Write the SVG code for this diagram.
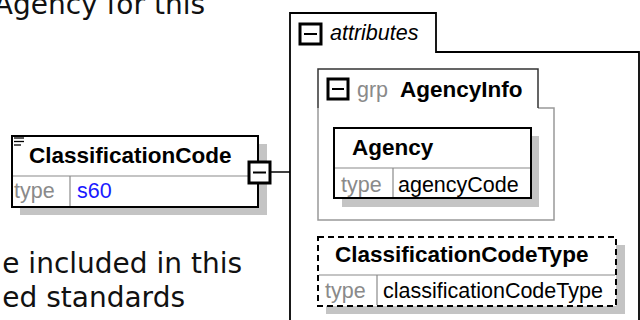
<svg xmlns="http://www.w3.org/2000/svg" width="640" height="320" viewBox="0 0 640 320">
<style>
.bg{font-family:"DejaVu Sans",Verdana,sans-serif;font-size:28px;fill:#111}
.t{font-family:"Liberation Sans",Arial,sans-serif;font-size:21.5px;fill:#000}
.b{font-family:"Liberation Sans",Arial,sans-serif;font-size:22.5px;font-weight:bold;fill:#000}
.g{fill:#8a8a8a}
.box{fill:#fff;stroke:#000;stroke-width:2}
.dash{fill:#fff;stroke:#000;stroke-width:2;stroke-dasharray:6 4}
.sh{fill:#c4c4c4}
.div{stroke:#8a8a8a;stroke-width:1.2;fill:none}
.mb{fill:#fff;stroke:#000;stroke-width:3}
.ml{stroke:#000;stroke-width:2}
</style>
<rect width="640" height="320" fill="#fff"/>
<text class="bg" x="205" y="14" text-anchor="end">Agency for this</text>
<text class="bg" x="242" y="273" text-anchor="end">e included in this</text>
<text class="bg" x="185" y="307" text-anchor="end">ed standards</text>

<g id="connectors">
<line x1="270" y1="172" x2="290" y2="172" stroke="#000" stroke-width="1.5"/>
</g>

<g id="attributes">
<path d="M290,320 V13 H436 V52 H639 V320" fill="#fff" stroke="#000" stroke-width="1.8"/>
<rect class="mb" x="300" y="24" width="21" height="20"/>
<line class="ml" x1="304" y1="34" x2="317" y2="34"/>
<text class="t" x="330" y="40" font-style="italic">attributes</text>
</g>

<g id="AgencyInfo">
<path d="M538,108 H554 V220 H318 V108" fill="#fff" stroke="#999" stroke-width="1.5"/>
<path d="M318,108 V69 H538 V108" fill="#fff" stroke="#333" stroke-width="1.5"/>
<rect x="319" y="70" width="218" height="40" fill="#fff"/>
<rect class="mb" x="328" y="79" width="20" height="20"/>
<line class="ml" x1="332" y1="89" x2="344" y2="89"/>
<text class="t g" x="357" y="97">grp</text>
<text class="b" x="400" y="97">AgencyInfo</text>
</g>

<g id="Agency">
<rect class="sh" x="342" y="136" width="197" height="71"/>
<rect class="box" x="334" y="128" width="197" height="70"/>
<line class="div" x1="335" y1="168" x2="530" y2="168"/>
<line class="div" x1="393" y1="168" x2="393" y2="197"/>
<text class="b" x="352" y="155">Agency</text>
<text class="t g" x="341" y="192">type</text>
<text class="t" x="398" y="192">agencyCode</text>
</g>

<g id="ClassificationCodeType">
<rect class="sh" x="326" y="245" width="299" height="69"/>
<rect class="dash" x="318" y="237" width="298" height="69"/>
<line class="div" x1="319" y1="275" x2="615" y2="275"/>
<line class="div" x1="377" y1="275" x2="377" y2="305"/>
<text class="b" x="335" y="262">ClassificationCodeType</text>
<text class="t g" x="325" y="298">type</text>
<text class="t" x="383" y="298">classificationCodeType</text>
</g>

<g id="ClassificationCode">
<rect class="sh" x="20" y="144" width="247" height="71"/>
<rect class="box" x="12" y="136" width="246" height="71"/>
<line class="div" x1="13" y1="176" x2="257" y2="176"/>
<line class="div" x1="70" y1="176" x2="70" y2="206"/>
<line x1="14" y1="138" x2="24" y2="138" stroke="#000" stroke-width="1.3"/>
<line x1="14" y1="141.5" x2="24" y2="141.5" stroke="#000" stroke-width="1.3"/>
<line x1="14" y1="145" x2="21" y2="145" stroke="#000" stroke-width="1.3"/>
<text class="b" x="29" y="163">ClassificationCode</text>
<text class="t g" x="14" y="198">type</text>
<text class="t" x="77" y="198" style="fill:#1a1aff">s60</text>
<rect class="mb" x="249" y="162" width="21" height="21"/>
<line class="ml" x1="253" y1="172.5" x2="266" y2="172.5"/>
</g>
</svg>
